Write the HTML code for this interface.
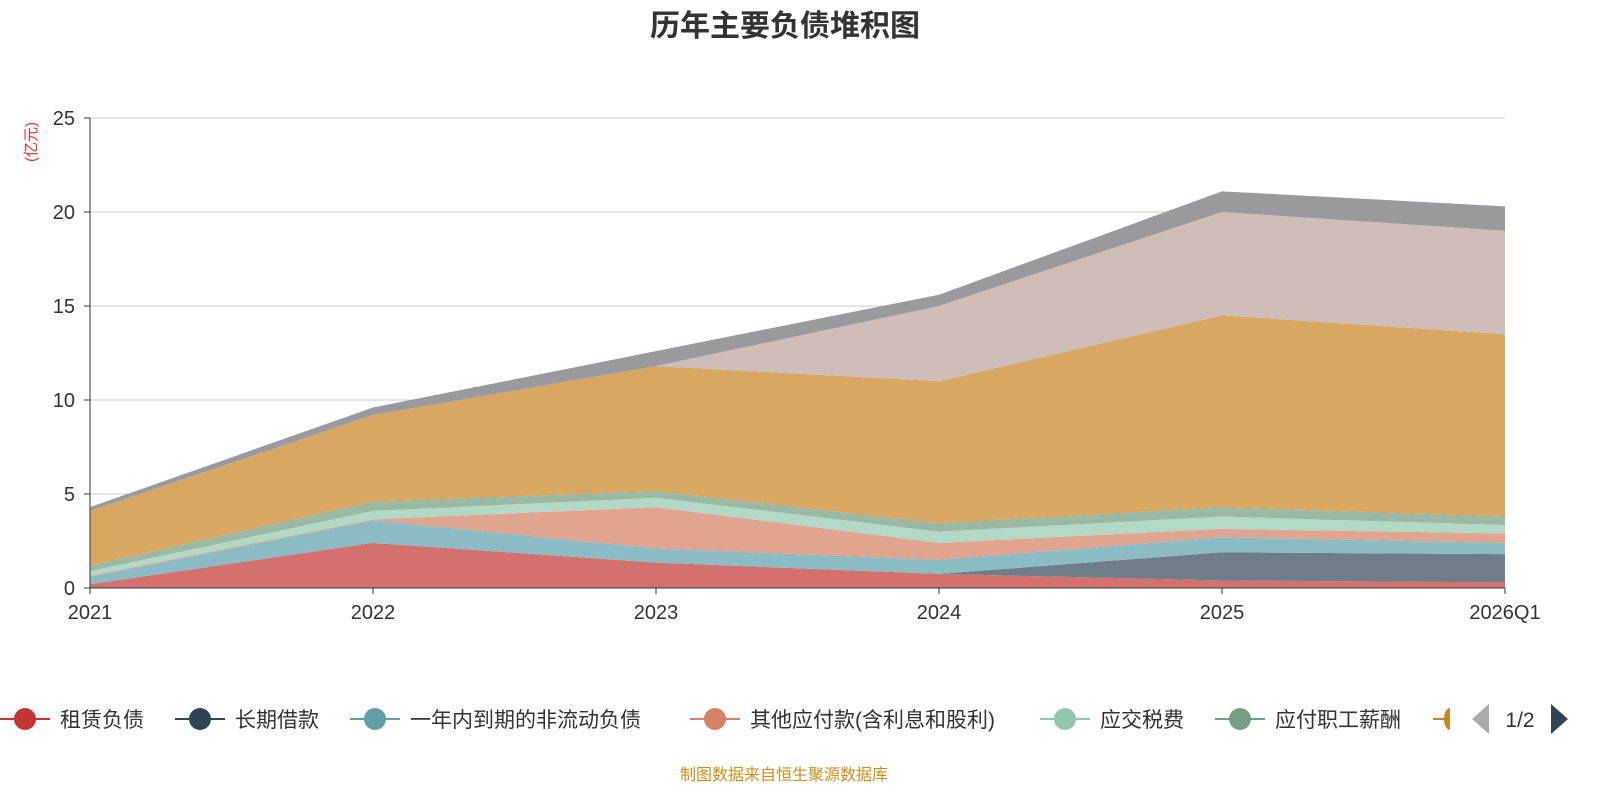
<!DOCTYPE html>
<html><head><meta charset="utf-8">
<style>
body{margin:0;background:#fff;width:1600px;height:800px;overflow:hidden;font-family:"Liberation Sans","Noto Sans CJK SC",sans-serif}
</style></head><body>
<svg id="c" width="1600" height="800" xmlns="http://www.w3.org/2000/svg">
<text x="785" y="36" text-anchor="middle" font-size="30" font-weight="bold" fill="#333">历年主要负债堆积图</text>
<text transform="translate(36,142) rotate(-90)" text-anchor="middle" font-size="15" fill="#e03030">(亿元)</text>
<g id="grid"></g><g id="areas"></g><g id="axes"></g><g id="legend"></g>
<text x="784" y="780" text-anchor="middle" font-size="16" fill="#c8901a">制图数据来自恒生聚源数据库</text>
</svg>
<script>
const categories=["2021","2022","2023","2024","2025","2026Q1"];
const yTicks=[0,5,10,15,20,25];
const seriesNames=["租赁负债","长期借款","一年内到期的非流动负债","其他应付款(含利息和股利)","应交税费","应付职工薪酬","应付账款","合同负债","其他"];
const s0=[0.2,2.4,1.35,0.75,0.4,0.3];
const s1=[0,0,0,0,1.5,1.5];
const s2=[0.4,1.2,0.75,0.75,0.8,0.6];
const s3=[0.05,0.05,2.2,0.9,0.45,0.5];
const s4=[0.25,0.45,0.5,0.6,0.65,0.45];
const s5=[0.3,0.5,0.35,0.45,0.5,0.45];
const s6=[2.9,4.6,6.65,7.55,10.2,9.7];
const s7=[0,0,0,4.0,5.5,5.5];
const s8=[0.2,0.4,0.8,0.6,1.1,1.3];
const series=[s0,s1,s2,s3,s4,s5,s6,s7,s8];
const fills=["#d4706e","#6e7d88","#8bbcc4","#e0a590","#b2d9c6","#9bb8a3","#d8a862","#cfbdb8","#9a9a9e"];
const legendColors=["#c23531","#2f4554","#61a0a8","#d48265","#91c7ae","#749f83","#ca8622"];
const NS="http://www.w3.org/2000/svg";
const X0=90,X1=1505,Y0=588,Y1=118,YMAX=25;
const xs=i=>X0+i*(X1-X0)/(categories.length-1);
const ys=v=>Y0-v*(Y0-Y1)/YMAX;
function mk(t,a,p){const e=document.createElementNS(NS,t);for(const k in a)e.setAttribute(k,a[k]);p.appendChild(e);return e;}
const grid=document.getElementById('grid'),areas=document.getElementById('areas'),axes=document.getElementById('axes'),leg=document.getElementById('legend');
yTicks.forEach(t=>{
 if(t>0){const l=mk('line',{x1:X0,x2:X1,y1:ys(t),y2:ys(t),stroke:'#ccc','stroke-width':1},grid);
 
 }
 const tx=mk('text',{x:X0-15,y:ys(t)+7,'text-anchor':'end','font-size':20,fill:'#333'},axes);tx.textContent=t;
 
 
 mk('line',{x1:X0-6,x2:X0,y1:ys(t),y2:ys(t),stroke:'#333'},axes);
});
let cum=categories.map(()=>0);
series.forEach((s,k)=>{
 const lo=cum.slice();cum=cum.map((c,i)=>c+s[i]);
 let d='M'+categories.map((_,i)=>xs(i)+','+ys(cum[i])).join('L');
 for(let i=categories.length-1;i>=0;i--)d+='L'+xs(i)+','+ys(lo[i]);
 const p=mk('path',{d:d+'Z',fill:fills[k]},areas);
 
 
});
mk('line',{x1:X0,x2:X0,y1:Y1,y2:Y0,stroke:'#333'},axes);
mk('line',{x1:X0,x2:X1,y1:Y0,y2:Y0,stroke:'#333'},axes);
categories.forEach((c,i)=>{
 mk('line',{x1:xs(i),x2:xs(i),y1:Y0,y2:Y0+6,stroke:'#333'},axes);
 const t=mk('text',{x:xs(i),y:Y0+31,'text-anchor':'middle','font-size':20,fill:'#333'},axes);t.textContent=c;
 
 
});
const lx=[0,175,350,690,1040,1215];
legendColors.slice(0,6).forEach((col,i)=>{
 const g=mk('g',{},leg);
 
 
 const x=lx[i];
 mk('line',{x1:x,x2:x+50,y1:719,y2:719,stroke:col,'stroke-width':2},g);
 mk('circle',{cx:x+25,cy:719,r:11,fill:col},g);
 const t=mk('text',{x:x+60,y:727,'font-size':21,fill:'#333'},g);t.textContent=seriesNames[i];
});
const lg=mk('g',{},leg);


mk('line',{x1:1433,x2:1450,y1:719,y2:719,stroke:'#ca8622','stroke-width':2},lg);
mk('path',{d:'M1450,708 A6,11 0 0 0 1450,730Z',fill:'#ca8622'},lg);
const pp=mk('path',{d:'M1472,719L1489,704L1489,734Z',fill:'#aaa'},leg);


const pt=mk('text',{x:1520,y:727,'text-anchor':'middle','font-size':21,fill:'#333'},leg);pt.textContent='1/2';


const np=mk('path',{d:'M1551,704L1568,719L1551,734Z',fill:'#2f4554'},leg);


</script>
</body></html>
